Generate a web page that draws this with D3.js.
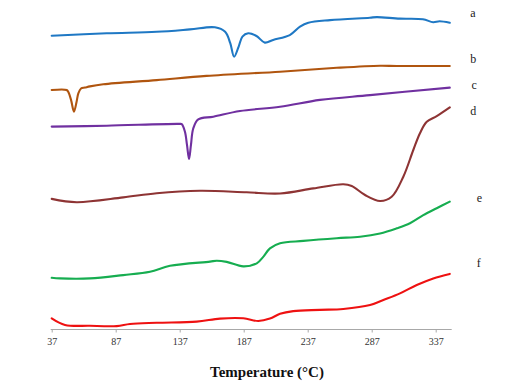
<!DOCTYPE html>
<html><head><meta charset="utf-8">
<script src="https://cdn.jsdelivr.net/npm/d3@7"></script>
<style>body{margin:0;background:#fff}svg{display:block}</style>
</head><body>
<svg id="c" width="532" height="392"></svg>
<script>
// Temperature ticks (°C)
const tickValues = [37, 87, 137, 187, 237, 287, 337];
const seriesNames = ["a", "b", "c", "d", "e", "f"];
const seriesColors = ["#1f78c4", "#b0550f", "#7030a0", "#8e3434", "#16ad50", "#ee1111"];
// [temperature, heat flow (a.u., offset)]
const curveA = [[37,98.1],[80,98.9],[119,99.4],[145,100.2],[164.5,100.9],[172.5,99.4],[176.5,95.6],[179.5,91.1],[183,94.4],[186,97.8],[190.5,98.9],[197,98.0],[203.5,95.8],[210,96.7],[223,98.3],[231,101.1],[237.5,102.4],[254.5,103.3],[285.5,104.1],[291,104.3],[309,103.8],[327,103.6],[335,102.6],[340,102.9],[348,102.4]];
const curveB = [[37,80],[48.7,80],[50,79.3],[52.1,76.7],[54.4,72.8],[56.4,76],[57.8,78.9],[59.9,80.5],[63,80.8],[66.9,81.2],[77.3,81.9],[119,83.3],[158,84.7],[215.4,86.1],[259.7,87.4],[293.5,88.1],[306.5,88],[348,88]];
const curveC = [[37,67.8],[80,68.1],[137.2,68.7],[138.6,68.6],[141.1,66.1],[142.7,61.7],[144.3,57],[145.8,61.7],[147.6,67.2],[151.5,70.2],[163.3,71.1],[184.1,73],[215.4,74.4],[246.6,76.7],[285.7,78.3],[348,80.8]];
const curveD = [[37,43.7],[56.5,42.6],[92.9,44.2],[119,45.6],[152.9,46.4],[189.3,45.9],[215.4,45.5],[241.4,47.2],[264.8,48.6],[271.4,48],[281.8,45],[293.5,43],[302.6,44.4],[311.7,51.1],[319.5,60],[324.7,65.6],[330,69.4],[337.8,71.3],[348,74.2]];
const curveE = [[37,17.4],[43.5,17.2],[66.9,17.2],[92.9,18.3],[113.8,19.4],[129.4,21.4],[160.7,22.8],[165.9,23.1],[173.7,22.7],[186.7,21.2],[197.2,22.2],[202.1,24.3],[207.5,27.2],[215.4,28.9],[233.6,29.7],[259.7,30.6],[277.9,31.1],[293.5,32.2],[306.5,33.9],[316.9,35.6],[327.3,38.3],[337.8,40.6],[348,42.8]];
const curveF = [[37,3.9],[47.4,1.7],[66.9,1.4],[87.8,1.3],[98.2,2],[119,2.4],[150.3,2.8],[168.5,3.8],[186.7,3.9],[198.4,3],[207.5,3.8],[215.4,5.4],[225.7,6.3],[246.6,6.7],[264.8,7],[285.7,8.3],[296.1,10],[309.1,12.2],[322.2,15],[335.1,17.2],[348,18.7]];
const curves = [curveA, curveB, curveC, curveD, curveE, curveF];
// label anchor positions in data units [temperature, value]
const labelPos = [[364,104.5],[364,89],[365,80.2],[364,71.8],[369,42.8],[369,21]];

const svg = d3.select("#c");
const x = d3.scaleLinear().domain([37, 349.5]).range([51.7, 451.7]);
const y = d3.scaleLinear().domain([0, 110]).range([330, 0]);

const axis = svg.append("g").attr("transform", "translate(0,329.5)")
  .call(d3.axisBottom(x).tickValues(tickValues).tickSizeInner(3).tickSizeOuter(0).tickPadding(5));
axis.select(".domain").attr("stroke", "#a8a8a8").attr("d", `M${x.range()[0]-1},0H${x.range()[1]}`);
axis.selectAll(".tick line").attr("stroke", "#a8a8a8");
axis.selectAll(".tick text").attr("font-family", "Liberation Serif, serif").attr("font-size", 10).attr("fill", "#333");

const line = d3.line().x(d => x(d[0])).y(d => y(d[1])).curve(d3.curveCatmullRom.alpha(0.5));
svg.append("g").selectAll("path").data(curves).join("path")
  .attr("d", line).attr("fill", "none")
  .attr("stroke", (d, i) => seriesColors[i]).attr("stroke-width", 2.1)
  .attr("stroke-linejoin", "round").attr("stroke-linecap", "round");

svg.append("g").selectAll("text").data(seriesNames).join("text")
  .attr("x", (d, i) => x(labelPos[i][0])).attr("y", (d, i) => y(labelPos[i][1]))
  .attr("font-family", "Liberation Serif, serif").attr("font-size", 12).attr("fill", "#222")
  .text(d => d);

svg.append("text").attr("x", 267).attr("y", 376.5).attr("text-anchor", "middle")
  .attr("font-family", "Liberation Serif, serif").attr("font-weight", "bold").attr("font-size", 15)
  .attr("fill", "#111").text("Temperature (°C)");
</script>
</body></html>
